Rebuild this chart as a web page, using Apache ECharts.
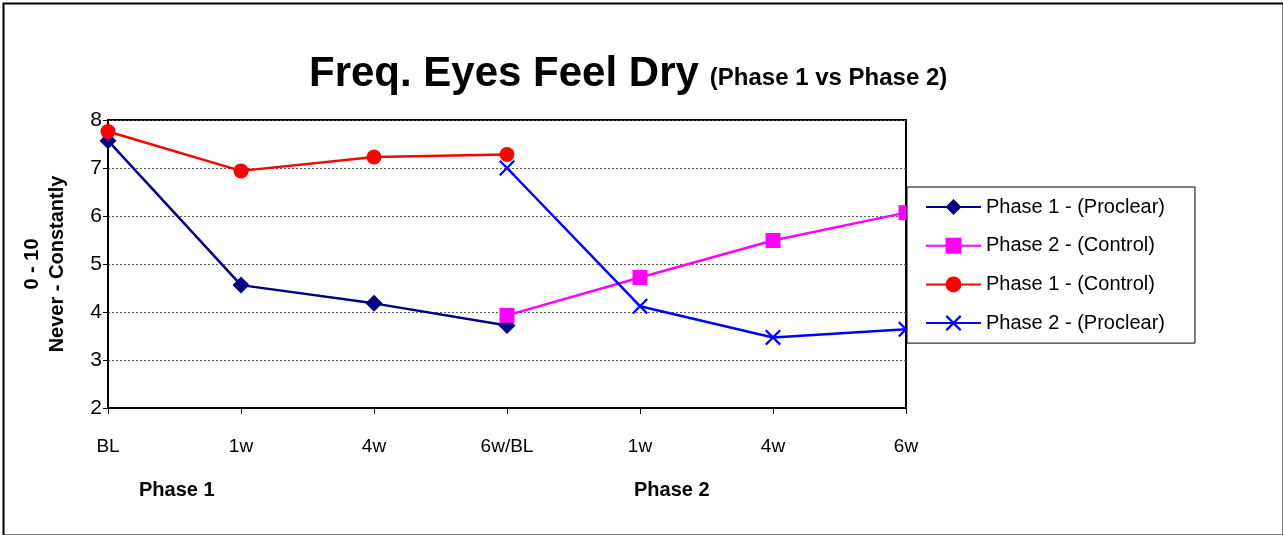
<!DOCTYPE html>
<html>
<head>
<meta charset="utf-8">
<script src="https://cdn.jsdelivr.net/npm/echarts@6/dist/echarts.min.js"></script>
<style>
  html, body { margin: 0; padding: 0; background: #fff; }
  #chart { width: 1283px; height: 535px; }
</style>
</head>
<body>
<div id="chart"></div>
<script>
// categories along the x axis (phase 1 then phase 2)
var categories = ["BL", "1w", "4w", "6w/BL", "1w", "4w", "6w"];

// series values, null where a phase has no reading
var phase1Proclear = [7.57, 4.56, 4.18, 3.72, null, null, null];
var phase2Control = [null, null, null, 3.93, 4.72, 5.49, 6.07];
var phase1Control = [7.76, 6.94, 7.23, 7.28, null, null, null];
var phase2Proclear = [null, null, null, 7.0, 4.12, 3.47, 3.64];

var crossPath = "path://M0,1L1,0L5,4L9,0L10,1L6,5L10,9L9,10L5,6L1,10L0,9L4,5Z";
var font = "Liberation Sans, Arial, sans-serif";

const chart = echarts.init(document.getElementById("chart"));

function lineSeries(name, data, color, symbol, size) {
  return {
    name: name,
    type: "line",
    data: data,
    symbol: symbol,
    symbolSize: size,
    showAllSymbol: true,
    connectNulls: false,
    lineStyle: { color: color, width: 2.5 },
    itemStyle: { color: color },
    emphasis: { disabled: true },
  };
}

var option = {
  animation: false,
  textStyle: { fontFamily: font },
  title: {
    text: "{a|Freq. Eyes Feel Dry} {b|(Phase 1 vs Phase 2)}",
    left: 304,
    top: 48,
    textStyle: {
      rich: {
        a: { fontSize: 42, fontWeight: "bold", color: "#000", fontFamily: font },
        b: { fontSize: 24, fontWeight: "bold", color: "#000", fontFamily: font, padding: [8, 0, 0, 6] },
      },
    },
  },
  grid: {
    left: 108,
    right: 377,
    top: 120,
    bottom: 127,
    show: true,
    borderColor: "#000",
    borderWidth: 2,
  },
  legend: {
    orient: "vertical",
    left: 907,
    top: 187,
    itemWidth: 55,
    itemHeight: 20,
    itemGap: 18.7,
    padding: [10, 30, 10, 18],
    backgroundColor: "#fff",
    borderColor: "#000",
    borderWidth: 1,
    textStyle: { fontSize: 20, color: "#000", fontFamily: font },
    data: ["Phase 1 - (Proclear)", "Phase 2 - (Control)", "Phase 1 - (Control)", "Phase 2 - (Proclear)"],
  },
  xAxis: {
    type: "category",
    data: categories,
    boundaryGap: false,
    axisLine: { lineStyle: { color: "#000", width: 2 } },
    axisTick: { show: true, length: 6, lineStyle: { color: "#000" } },
    axisLabel: { color: "#000", fontSize: 19, margin: 29, interval: 0 },
    splitLine: { show: false },
  },
  yAxis: {
    type: "value",
    min: 2,
    max: 8,
    interval: 1,
    name: "0 - 10\nNever - Constantly",
    nameLocation: "middle",
    nameRotate: 90,
    nameGap: 38,
    nameTextStyle: { fontSize: 20, fontWeight: "bold", color: "#000", lineHeight: 25 },
    axisLine: { show: true, lineStyle: { color: "#000", width: 2 } },
    axisTick: { show: true, length: 5, lineStyle: { color: "#000" } },
    axisLabel: { color: "#000", fontSize: 21, margin: 6 },
    splitLine: { show: true, lineStyle: { color: "#555", type: [2, 2], width: 1 } },
  },
  graphic: [
    {
      type: "rect",
      left: 1,
      top: 1,
      shape: { width: 1280, height: 532 },
      style: { fill: "none", stroke: "#000", lineWidth: 2 },
      z: -1,
    },
    {
      type: "text",
      left: 139,
      top: 480,
      style: { text: "Phase 1", fontSize: 20, fontWeight: "bold", fill: "#000", fontFamily: font },
    },
    {
      type: "text",
      left: 634,
      top: 480,
      style: { text: "Phase 2", fontSize: 20, fontWeight: "bold", fill: "#000", fontFamily: font },
    },
  ],
  series: [
    lineSeries("Phase 1 - (Proclear)", phase1Proclear, "#000080", "diamond", 17),
    lineSeries("Phase 2 - (Control)", phase2Control, "#ff00ff", "rect", 15),
    lineSeries("Phase 1 - (Control)", phase1Control, "#ff0000", "circle", 15),
    lineSeries("Phase 2 - (Proclear)", phase2Proclear, "#0000ff", crossPath, 16),
  ],
};

chart.setOption(option);
</script>
</body>
</html>
